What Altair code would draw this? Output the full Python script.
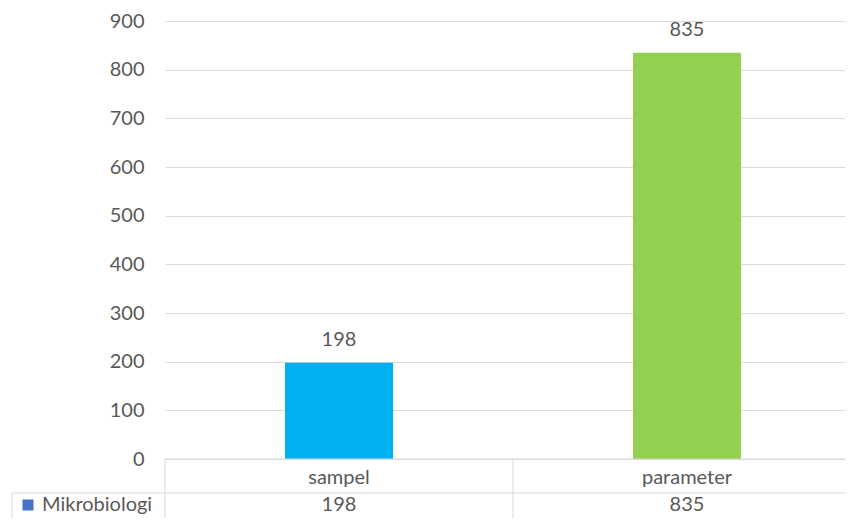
import altair as alt
import pandas as pd

categories = ["sampel", "parameter"]
values = [198, 835]
bar_colors = ["#00b0f0", "#92d050"]
series_name = "Mikrobiologi"
series_color = "#4472c4"
y_ticks = [0, 100, 200, 300, 400, 500, 600, 700, 800, 900]

W, H = 680, 438
STEP_RANGE = 696
ROW = 34
ROW2_Y = H + 46
FONT = "Lato"
FS = 20
TXT = "#595959"
GRID = "#d9d9d9"

df = pd.DataFrame({"cat": categories, "val": values})
df_series = pd.DataFrame({"name": [series_name]})

xscale = alt.Scale(domain=categories, range=[0, STEP_RANGE], paddingInner=0, paddingOuter=0)
x_axis = alt.Axis(title=None, ticks=False, grid=False, domain=False,
                  labelPadding=18, labelBaseline="middle", labelAngle=0,
                  labelFont=FONT, labelFontSize=FS, labelColor=TXT)
y_axis = alt.Axis(title=None, values=y_ticks, ticks=False, domain=False,
                  grid=True, gridColor=GRID, gridWidth=1, labelPadding=21,
                  labelFont=FONT, labelFontSize=FS, labelColor=TXT)
x = alt.X("cat:N", scale=xscale, sort=categories, axis=x_axis)
y = alt.Y("val:Q", scale=alt.Scale(domain=[0, 900], nice=False), axis=y_axis)

bars = alt.Chart(df).mark_bar(size=108).encode(
    x=x, y=y,
    color=alt.Color("cat:N", scale=alt.Scale(domain=categories, range=bar_colors), legend=None),
)

labels = alt.Chart(df).mark_text(baseline="alphabetic", dy=-17, font=FONT, fontSize=FS, color=TXT).encode(
    x=x, y=y, text="val:Q"
)

# data table
vlines = alt.Chart(df).mark_rule(color=GRID, strokeWidth=1).encode(
    x=alt.X("cat:N", scale=xscale, sort=categories, bandPosition=0, axis=x_axis),
    y=alt.value(H), y2=alt.value(H + 2 * ROW),
)
row1_line = alt.Chart(df_series).mark_rule(color=GRID, strokeWidth=1).encode(
    x=alt.value(0), x2=alt.value(W), y=alt.value(H), y2=alt.value(H)
)
row2_line = alt.Chart(df_series).mark_rule(color=GRID, strokeWidth=1).encode(
    x=alt.value(-153), x2=alt.value(W), y=alt.value(H + ROW), y2=alt.value(H + ROW)
)
left_line = alt.Chart(df_series).mark_rule(color=GRID, strokeWidth=1).encode(
    x=alt.value(-153), x2=alt.value(-153), y=alt.value(H + ROW), y2=alt.value(H + 2 * ROW)
)
legend_sq = alt.Chart(df_series).mark_square(size=121, color=series_color, opacity=1).encode(
    x=alt.value(-137), y=alt.value(ROW2_Y)
)
legend_txt = alt.Chart(df_series).mark_text(align="left", baseline="middle", font=FONT, fontSize=FS, color=TXT).encode(
    x=alt.value(-123), y=alt.value(ROW2_Y), text="name:N"
)
row2_vals = alt.Chart(df).mark_text(baseline="middle", font=FONT, fontSize=FS, color=TXT).encode(
    x=x, y=alt.value(ROW2_Y), text="val:Q"
)

chart = alt.layer(bars, labels, vlines, row1_line, row2_line, left_line, legend_sq, legend_txt, row2_vals).properties(
    width=W, height=H,
    autosize=alt.AutoSizeParams(type="none"),
    padding={"left": 157, "top": 13, "right": 0, "bottom": 59},
).configure(background="white").configure_view(strokeWidth=0, strokeOpacity=0, stroke="transparent").configure_axis(
    domain=False
).configure_axisX(grid=False).configure_axisY(grid=True)

chart.save("out.html", embed_options={"renderer": "svg", "actions": False})
